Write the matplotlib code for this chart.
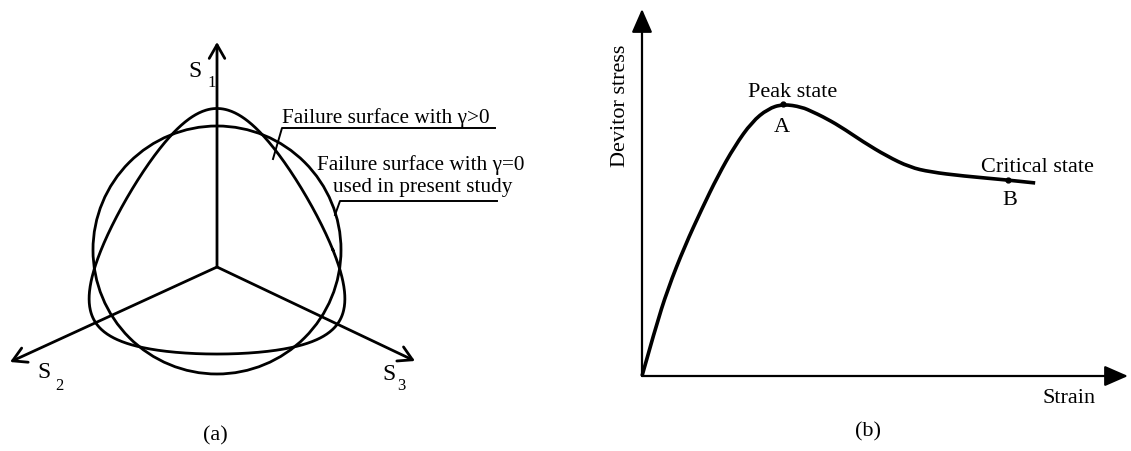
import numpy as np
import matplotlib
matplotlib.use("Agg")
import matplotlib.pyplot as plt
import matplotlib.patches as mpatches
from matplotlib.path import Path

plt.rcParams['font.family'] = ['Liberation Serif', 'DejaVu Serif']

# ---- panel (b) data: normalised strain / devitor stress
strain = [0.0, 0.027, 0.053, 0.088, 0.123, 0.156, 0.191, 0.226, 0.259, 0.290,
          0.329, 0.352, 0.370, 0.407, 0.455, 0.504, 0.551, 0.593, 0.660, 0.753, 0.809]
stress = [0.0, 0.128, 0.237, 0.354, 0.455, 0.545, 0.627, 0.692, 0.728, 0.741,
          0.733, 0.719, 0.708, 0.681, 0.638, 0.599, 0.569, 0.556, 0.545, 0.534, 0.526]
peak_pt = (0.290, 0.741)
crit_pt = (0.753, 0.534)

# ---- panel (a) geometry (deviatoric plane, drawing units)
axis_tips = {'s1': (0, 225), 's2': (-207, -95), 's3': (198, -94)}
surf_center = (0, 17)
circle_radius = 124
tri_d = 100.4      # gamma > 0 surface size
tri_k = 0.70       # roundness (0 = circle, 1 = triangle)


def smooth_path(xs, ys):
    # quadratic bezier through the midpoints, read points act as control points
    pts = np.column_stack([xs, ys])
    verts = [pts[0]]
    codes = [Path.MOVETO]
    for i in range(1, len(pts) - 1):
        mid = (pts[i] + pts[i + 1]) / 2 if i < len(pts) - 2 else pts[i + 1]
        verts += [pts[i], mid]
        codes += [Path.CURVE3, Path.CURVE3]
    return Path(verts, codes)


W, H = 1131, 452
fig = plt.figure(figsize=(W / 100, H / 100), dpi=100)

# ================= panel (a) =================
axa = fig.add_axes([0, 0, 560 / W, 1])
axa.set_xlim(-217, 343)
axa.set_ylim(-184, 268)
axa.axis('off')

lw_a = 2.0
for key, tip in axis_tips.items():
    axa.annotate('', xy=tip, xytext=(0, 0),
                 arrowprops=dict(arrowstyle='->,head_length=0.7,head_width=0.4',
                                 lw=lw_a, color='black', mutation_scale=14,
                                 shrinkA=0, shrinkB=0))

circ = mpatches.Circle(surf_center, circle_radius, fill=False, lw=lw_a, color='black')
axa.add_patch(circ)

th = np.linspace(0, 2 * np.pi, 721)
r = tri_d / np.cos(np.arccos(tri_k * np.sin(3 * th)) / 3)
axa.plot(surf_center[0] + r * np.cos(th), surf_center[1] + r * np.sin(th),
         color='black', lw=lw_a)

fs = 15.3
axa.text(65, 145, 'Failure surface with γ>0', fontsize=fs, va='baseline', ha='left')
axa.plot([278, 65, 56], [139, 139, 108], color='black', lw=1.4)
axa.text(100, 98, 'Failure surface with γ=0', fontsize=fs, va='baseline', ha='left')
axa.text(116, 76, 'used in present study', fontsize=fs, va='baseline', ha='left')
axa.plot([280, 123, 118], [66, 66, 52], color='black', lw=1.4)

fs_s, fs_sub = 17, 12
axa.text(-29, 191, 'S', fontsize=fs_s, va='baseline', ha='left')
axa.text(-10, 181, '1', fontsize=fs_sub, va='baseline', ha='left')
axa.text(-180, -110, 'S', fontsize=fs_s, va='baseline', ha='left')
axa.text(-162, -122, '2', fontsize=fs_sub, va='baseline', ha='left')
axa.text(165, -112, 'S', fontsize=fs_s, va='baseline', ha='left')
axa.text(180, -122, '3', fontsize=fs_sub, va='baseline', ha='left')

axa.text(-2, -172, '(a)', fontsize=16, va='baseline', ha='center')

# ================= panel (b) =================
axb = fig.add_axes([642 / W, (H - 377) / H, 486 / W, 367 / H])
axb.set_xlim(0, 1)
axb.set_ylim(0, 1)
axb.axis('off')

for tip in [(1, 0), (0, 1)]:
    axb.annotate('', xy=tip, xytext=(0, 0), xycoords='axes fraction',
                 arrowprops=dict(arrowstyle='-|>,head_length=0.8,head_width=0.35',
                                 lw=1.6, color='black', mutation_scale=18,
                                 shrinkA=0, shrinkB=0))

curve = mpatches.PathPatch(smooth_path(strain, stress), fill=False, lw=2.6,
                           color='black', capstyle='butt', joinstyle='round',
                           clip_on=False)
axb.add_patch(curve)
axb.plot(*zip(peak_pt, crit_pt), 'o', color='black', ms=3.5, clip_on=False)

fsb = 16
axb.text(0.309, 0.763, 'Peak state', fontsize=fsb, ha='center', va='baseline')
axb.text(0.288, 0.668, 'A', fontsize=fsb, ha='center', va='baseline')
axb.text(0.698, 0.559, 'Critical state', fontsize=fsb, ha='left', va='baseline')
axb.text(0.757, 0.469, 'B', fontsize=fsb, ha='center', va='baseline')
axb.text(0.825, -0.071, 'Strain', fontsize=fsb, ha='left', va='baseline')
axb.text(-0.045, 0.738, 'Devitor stress', fontsize=fsb, ha='center', va='center',
         rotation=90)
axb.text(0.465, -0.163, '(b)', fontsize=16, ha='center', va='baseline')

fig.savefig('out.png', dpi=100, facecolor='white')
